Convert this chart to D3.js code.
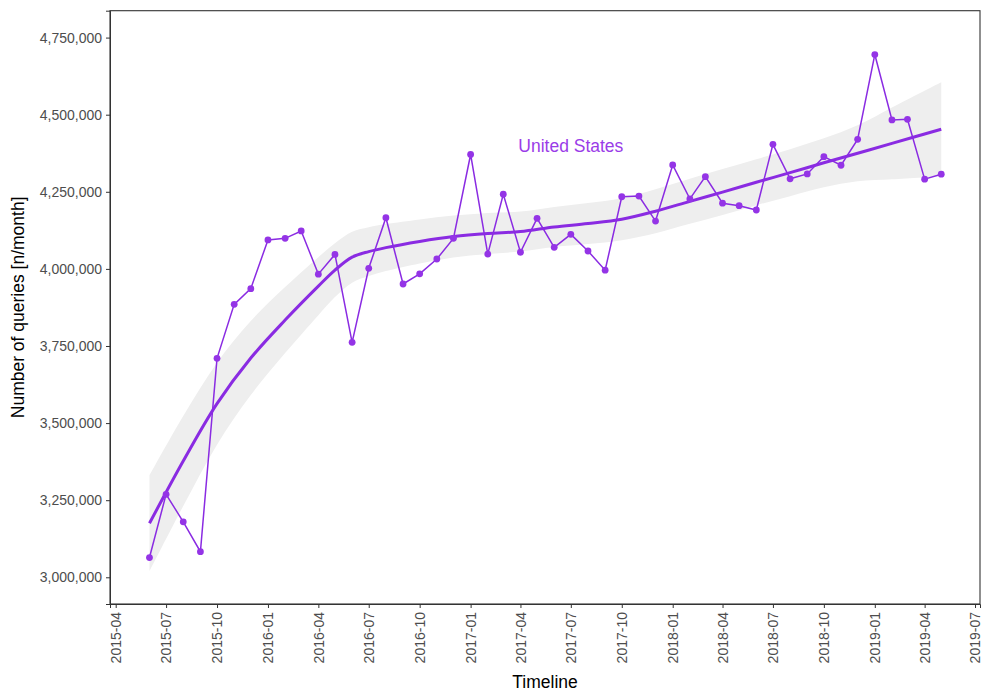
<!DOCTYPE html>
<html>
<head>
<meta charset="utf-8">
<script src="https://cdn.jsdelivr.net/npm/d3@7"></script>
<style>
  html, body { margin: 0; padding: 0; background: #ffffff; }
  svg { display: block; font-family: "Liberation Sans", Arial, sans-serif; }
</style>
</head>
<body>
<svg id="chart" width="987" height="693"></svg>
<script>
// Monthly query counts, United States
const months = [
  "2015-06","2015-07","2015-08","2015-09","2015-10","2015-11","2015-12",
  "2016-01","2016-02","2016-03","2016-04","2016-05","2016-06","2016-07","2016-08","2016-09","2016-10","2016-11","2016-12",
  "2017-01","2017-02","2017-03","2017-04","2017-05","2017-06","2017-07","2017-08","2017-09","2017-10","2017-11","2017-12",
  "2018-01","2018-02","2018-03","2018-04","2018-05","2018-06","2018-07","2018-08","2018-09","2018-10","2018-11","2018-12",
  "2019-01","2019-02","2019-03","2019-04","2019-05"
];
const queries = [
  3064000, 3269000, 3180000, 3083000, 3710000, 3885000, 3936000,
  4094000, 4099000, 4123000, 3983000, 4047000, 3762000, 4002000, 4166000, 3951000, 3984000, 4032000, 4099000,
  4371000, 4048000, 4242000, 4054000, 4164000, 4070000, 4112000, 4058000, 3996000, 4234000, 4236000, 4155000,
  4337000, 4227000, 4299000, 4213000, 4205000, 4191000, 4404000, 4292000, 4308000, 4364000, 4336000, 4420000,
  4695000, 4483000, 4485000, 4291000, 4307000
];

// Smoothed trend with its confidence band
const trendMonths = [
  "2015-06","2015-08","2015-10","2015-12","2016-02","2016-04","2016-05","2016-06","2016-07","2016-08",
  "2016-10","2016-12","2017-02","2017-04","2017-06","2017-08","2017-10","2017-12","2018-02","2018-04",
  "2018-06","2018-08","2018-10","2018-12","2019-02","2019-05"
];
const trendFit = [
  3175000, 3377000, 3563000, 3711000, 3834000, 3944000, 3996000, 4038000, 4056000, 4069000,
  4089000, 4105000, 4115000, 4121000, 4136000, 4147000, 4161000, 4187000, 4219000, 4249000,
  4281000, 4312000, 4344000, 4375000, 4407000, 4453000
];
const trendLower = [
  3019400, 3231100, 3430100, 3591000, 3727000, 3850000, 3908500, 3955300, 3976600, 3992800,
  4017700, 4036900, 4048500, 4056100, 4071100, 4080500, 4092900, 4115700, 4146000, 4174400,
  4206400, 4235800, 4264600, 4284200, 4290300, 4300600
];
const trendUpper = [
  3330600, 3522900, 3695900, 3831000, 3941000, 4038000, 4083500, 4120700, 4135400, 4145200,
  4160300, 4173100, 4181500, 4185900, 4200900, 4213500, 4229100, 4258300, 4292000, 4323600,
  4355600, 4388200, 4423400, 4465800, 4523700, 4605400
];

const yTickValues = [3000000, 3250000, 3500000, 3750000, 4000000, 4250000, 4500000, 4750000];
const seriesLabel = "United States";
const xTitle = "Timeline";
const yTitle = "Number of queries [n/month]";

const parseMonth = d3.timeParse("%Y-%m");
const points = months.map((m, i) => ({ date: parseMonth(m), value: queries[i] }));
const trend = trendMonths.map((m, i) => ({
  date: parseMonth(m), fit: trendFit[i], lo: trendLower[i], hi: trendUpper[i]
}));

const svg = d3.select("#chart");
const panel = { left: 110, right: 980, top: 10.7, bottom: 604 };

const x = d3.scaleTime()
  .domain([new Date(2015, 2, 21, 17), new Date(2019, 6, 10)])
  .range([panel.left, panel.right]);
const y = d3.scaleLinear()
  .domain([2913400, 4837200])
  .range([panel.bottom, panel.top]);

const purple = "#8a2be2";
const smooth = d3.curveCatmullRom.alpha(0.5);

// confidence band
svg.append("path")
  .datum(trend)
  .attr("fill", "#eeeeee")
  .attr("d", d3.area()
    .x(d => x(d.date))
    .y0(d => y(d.lo))
    .y1(d => y(d.hi))
    .curve(smooth));

// observed series
svg.append("path")
  .datum(points)
  .attr("fill", "none")
  .attr("stroke", purple)
  .attr("stroke-width", 1.5)
  .attr("d", d3.line().x(d => x(d.date)).y(d => y(d.value)));

// trend line
svg.append("path")
  .datum(trend)
  .attr("fill", "none")
  .attr("stroke", purple)
  .attr("stroke-width", 3)
  .attr("d", d3.line().x(d => x(d.date)).y(d => y(d.fit)).curve(smooth));

svg.append("g")
  .selectAll("circle")
  .data(points)
  .join("circle")
  .attr("cx", d => x(d.date))
  .attr("cy", d => y(d.value))
  .attr("r", 3.4)
  .attr("fill", "#9434e6");

svg.append("text")
  .attr("x", x(new Date(2017, 6, 1)))
  .attr("y", y(4398000))
  .attr("dy", "0.35em")
  .attr("text-anchor", "middle")
  .attr("font-size", 17.5)
  .attr("fill", "#9a3ce8")
  .text(seriesLabel);

// panel border
svg.append("rect")
  .attr("x", panel.left)
  .attr("y", panel.top)
  .attr("width", panel.right - panel.left)
  .attr("height", panel.bottom - panel.top)
  .attr("fill", "none")
  .attr("stroke", "#333333")
  .attr("stroke-width", 1.1);

// axes
const yAxis = svg.append("g")
  .attr("transform", `translate(${panel.left},0)`)
  .call(d3.axisLeft(y).tickValues(yTickValues).tickFormat(d3.format(",")).tickSize(4).tickPadding(4));
yAxis.select(".domain").attr("stroke", "#333333");
yAxis.selectAll(".tick line").attr("stroke", "#333333");
yAxis.selectAll("text")
  .attr("fill", "#4d4d4d")
  .attr("font-size", 14)
  .attr("font-family", "Liberation Sans, Arial, sans-serif");

const xAxis = svg.append("g")
  .attr("transform", `translate(0,${panel.bottom})`)
  .call(d3.axisBottom(x)
    .ticks(d3.timeMonth.every(3))
    .tickFormat(d3.timeFormat("%Y-%m"))
    .tickSize(4));
xAxis.select(".domain").attr("stroke", "#333333");
xAxis.selectAll(".tick line").attr("stroke", "#333333");
xAxis.selectAll("text")
  .attr("fill", "#4d4d4d")
  .attr("font-size", 14)
  .attr("font-family", "Liberation Sans, Arial, sans-serif")
  .attr("transform", "rotate(-90)")
  .attr("text-anchor", "end")
  .attr("x", -8)
  .attr("y", 0)
  .attr("dy", "0.35em");

svg.append("text")
  .attr("x", (panel.left + panel.right) / 2)
  .attr("y", 682)
  .attr("dy", "0.35em")
  .attr("text-anchor", "middle")
  .attr("font-size", 17.5)
  .attr("fill", "#000000")
  .text(xTitle);

svg.append("text")
  .attr("transform", `translate(18,${(panel.top + panel.bottom) / 2}) rotate(-90)`)
  .attr("dy", "0.35em")
  .attr("text-anchor", "middle")
  .attr("font-size", 17.5)
  .attr("fill", "#000000")
  .text(yTitle);
</script>
</body>
</html>
